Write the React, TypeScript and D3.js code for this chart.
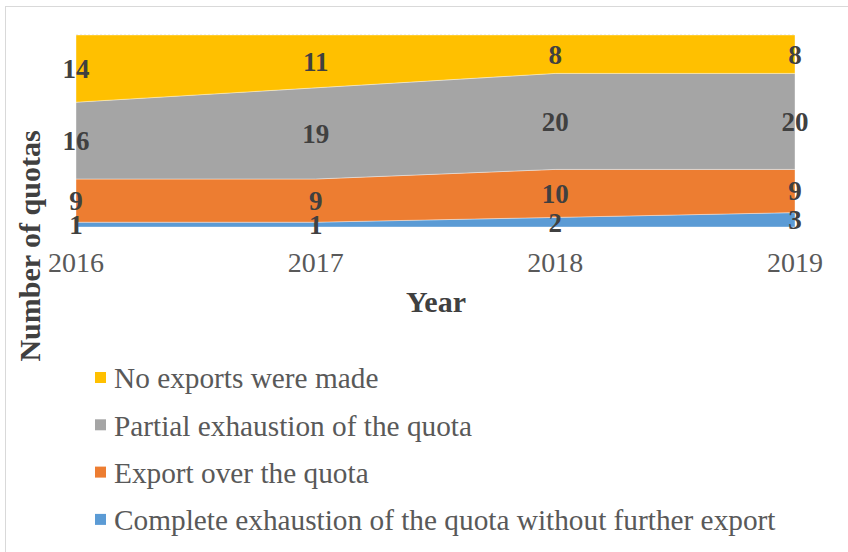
import { useEffect, useRef } from 'react'
import * as d3 from 'd3'

const years = ['2016', '2017', '2018', '2019']
const complete = [1, 1, 2, 3]
const overQuota = [9, 9, 10, 9]
const partial = [16, 19, 20, 20]
const noExports = [14, 11, 8, 8]

const seriesNames = [
  'Complete exhaustion of the quota without further export',
  'Export over the quota',
  'Partial exhaustion of the quota',
  'No exports were made',
]
const seriesColors = ['#5B9BD5', '#ED7D31', '#A5A5A5', '#FFC000']
const yMax = 40

export default function App() {
  const svgRef = useRef<SVGSVGElement>(null)

  useEffect(() => {
    if (!svgRef.current) return
    const width = 848
    const height = 552
    const font = '"Liberation Serif", "Times New Roman", serif'

    d3.select(svgRef.current).selectAll('*').remove()
    const svg = d3.select(svgRef.current)
      .attr('width', width)
      .attr('height', height)

    // chart border (cut off at right and bottom)
    svg.append('rect')
      .attr('x', 5.5).attr('y', 6.5)
      .attr('width', 900).attr('height', 600)
      .attr('fill', '#fff')
      .attr('stroke', '#d9d9d9')

    const x = d3.scalePoint<string>().domain(years).range([76, 795])
    const y = d3.scaleLinear().domain([0, yMax]).range([227, 35])

    const rows = years.map((yr, i) => ({
      year: yr,
      s0: complete[i],
      s1: overQuota[i],
      s2: partial[i],
      s3: noExports[i],
    }))
    const keys = ['s0', 's1', 's2', 's3']
    const stacked = d3.stack<any>().keys(keys)(rows)

    // top gridline
    svg.append('line')
      .attr('x1', x(years[0]) ?? 0).attr('x2', x(years[years.length - 1]) ?? 0)
      .attr('y1', y(yMax)).attr('y2', y(yMax))
      .attr('stroke', '#d9d9d9').attr('stroke-dasharray', '2 2')

    const area = d3.area<any>()
      .x(d => x(d.data.year) ?? 0)
      .y0(d => y(d[0]))
      .y1(d => y(d[1]))

    svg.append('g')
      .selectAll('path')
      .data(stacked)
      .join('path')
      .attr('d', area)
      .attr('fill', (_, i) => seriesColors[i])
      .attr('stroke', '#ffffff')
      .attr('stroke-opacity', 0.5)
      .attr('stroke-width', 0.75)

    // data labels
    stacked.forEach(layer => {
      layer.forEach(d => {
        svg.append('text')
          .attr('x', x(d.data.year) ?? 0)
          .attr('y', y((d[0] + d[1]) / 2))
          .attr('dy', '0.35em')
          .attr('text-anchor', 'middle')
          .attr('font-family', font)
          .attr('font-weight', 'bold')
          .attr('font-size', 27)
          .attr('fill', '#404040')
          .text(d[1] - d[0])
      })
    })

    // x axis labels
    years.forEach(yr => {
      svg.append('text')
        .attr('x', x(yr) ?? 0)
        .attr('y', 272)
        .attr('text-anchor', 'middle')
        .attr('font-family', font)
        .attr('font-size', 28)
        .attr('fill', '#595959')
        .text(yr)
    })

    // axis titles
    svg.append('text')
      .attr('x', 436).attr('y', 312)
      .attr('text-anchor', 'middle')
      .attr('font-family', font)
      .attr('font-weight', 'bold')
      .attr('font-size', 30)
      .attr('fill', '#404040')
      .text('Year')

    svg.append('text')
      .attr('transform', 'translate(40,246) rotate(-90)')
      .attr('text-anchor', 'middle')
      .attr('font-family', font)
      .attr('font-weight', 'bold')
      .attr('font-size', 30)
      .attr('fill', '#404040')
      .text('Number of quotas')

    // legend (top series first)
    const legendOrder = [3, 2, 1, 0]
    legendOrder.forEach((si, i) => {
      const cy = 378 + i * 47.3
      svg.append('rect')
        .attr('x', 95).attr('y', cy - 6)
        .attr('width', 11).attr('height', 11)
        .attr('fill', seriesColors[si])
      svg.append('text')
        .attr('x', 114).attr('y', cy)
        .attr('dy', '0.35em')
        .attr('font-family', font)
        .attr('font-size', 29.3)
        .attr('fill', '#595959')
        .text(seriesNames[si])
    })
  }, [])

  return (
    <div style={{ position: 'absolute', left: 0, top: 0 }}>
      <svg ref={svgRef} style={{ display: 'block' }} />
    </div>
  )
}
